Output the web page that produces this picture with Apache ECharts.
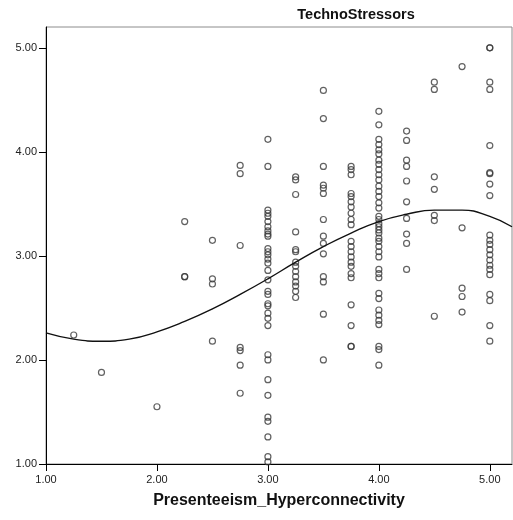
<!DOCTYPE html>
<html>
<head>
<meta charset="utf-8">
<script src="https://cdn.jsdelivr.net/npm/echarts@6/dist/echarts.min.js"></script>
<style>
	html, body { margin: 0; padding: 0; background: #fff; }
	#chart { width: 513px; height: 520px; }
</style>
</head>
<body>
<div id="chart"></div>
<script>
// tick labels
const xTicks = [1, 2, 3, 4, 5];
const yTicks = [1, 2, 3, 4, 5];

// TechnoStressors scores at each Presenteeism_Hyperconnectivity level
const at125 = [2.24];
const at150 = [1.88];
const at200 = [1.55];
const at225 = [3.33, 2.80, 2.80];
const at250 = [3.15, 2.78, 2.73, 2.18];
const at275 = [3.87, 3.79, 3.10, 2.12, 2.09, 1.95, 1.68];
const at300 = [4.12, 3.86, 3.44, 3.41, 3.38, 3.33, 3.28, 3.24, 3.21, 3.19, 3.07, 3.04, 3.01, 2.97, 2.93, 2.86, 2.77,
	2.66, 2.63, 2.54, 2.52, 2.45, 2.40, 2.33, 2.05, 2.00, 1.81, 1.66, 1.45, 1.41, 1.26, 1.07, 1.02];
const at325 = [3.76, 3.73, 3.59, 3.23, 3.06, 3.04, 2.94, 2.90, 2.85, 2.80, 2.75, 2.71, 2.66, 2.60];
const at350 = [4.59, 4.32, 3.86, 3.68, 3.65, 3.60, 3.35, 3.19, 3.12, 3.02, 2.80, 2.75, 2.44, 2.00];
const at375 = [3.86, 3.83, 3.78, 3.60, 3.57, 3.52, 3.47, 3.41, 3.35, 3.30, 3.14, 3.09, 3.04, 2.99, 2.94, 2.90, 2.83,
	2.79, 2.53, 2.33, 2.13, 2.13];
const at400 = [4.39, 4.26, 4.12, 4.07, 4.02, 3.98, 3.92, 3.88, 3.83, 3.78, 3.73, 3.67, 3.62, 3.57, 3.51, 3.46, 3.38,
	3.35, 3.31, 3.28, 3.25, 3.22, 3.17, 3.14, 3.09, 3.04, 2.99, 2.87, 2.83, 2.79, 2.64, 2.59, 2.48, 2.43, 2.38, 2.34,
	2.13, 2.10, 1.95];
const at425 = [4.20, 4.11, 3.92, 3.86, 3.72, 3.52, 3.36, 3.21, 3.12, 2.87];
const at450 = [4.67, 4.60, 3.76, 3.64, 3.39, 3.34, 2.42];
const at475 = [4.82, 3.27, 2.69, 2.61, 2.46];
const at500 = [5.00, 5.00, 4.67, 4.60, 4.06, 3.80, 3.79, 3.69, 3.58, 3.20, 3.15, 3.11, 3.06, 3.01, 2.96, 2.91, 2.87,
	2.82, 2.63, 2.57, 2.33, 2.18];

// fitted (cubic) curve
const fitX = [1.0, 1.25, 1.5, 1.75, 2.0, 2.25, 2.5, 2.75, 3.0, 3.25, 3.5, 3.75, 4.0, 4.25, 4.5, 4.75, 5.0, 5.2];
const fitY = [2.26, 2.20, 2.18, 2.20, 2.27, 2.37, 2.49, 2.63, 2.78, 2.94, 3.09, 3.22, 3.33, 3.40, 3.44, 3.44, 3.38, 3.28];

const columns = [
	[1.25, at125], [1.5, at150], [2.0, at200], [2.25, at225], [2.5, at250], [2.75, at275],
	[3.0, at300], [3.25, at325], [3.5, at350], [3.75, at375], [4.0, at400], [4.25, at425],
	[4.5, at450], [4.75, at475], [5.0, at500]
];
const points = [];
columns.forEach(([x, ys]) => {
	ys.forEach((y) => points.push([x, y]));
});
const curve = fitX.map((x, i) => [x, fitY[i]]);

const font = 'Arial, "Liberation Sans", sans-serif';
const myChart = echarts.init(document.getElementById('chart'));
const option = {
	animation: false,
	title: {
		text: 'TechnoStressors',
		left: 351,
		top: 2,
		textAlign: 'center',
		textStyle: { fontFamily: font, fontSize: 14.5, fontWeight: 'bold', color: '#111' }
	},
	grid: {
		left: 46,
		top: 27,
		right: 1,
		bottom: 56,
		show: true,
		borderColor: '#8c8c8c',
		borderWidth: 1,
		backgroundColor: '#fff'
	},
	xAxis: {
		type: 'value',
		min: 1,
		max: 5.2,
		interval: 1,
		name: 'Presenteeism_Hyperconnectivity',
		nameLocation: 'middle',
		nameGap: 29,
		nameTextStyle: { fontFamily: font, fontSize: 16, fontWeight: 'bold', color: '#111' },
		axisLine: { lineStyle: { color: '#000', width: 1 } },
		axisTick: { show: true, length: 7, customValues: xTicks, lineStyle: { color: '#000' } },
		axisLabel: {
			customValues: xTicks,
			fontFamily: font,
			fontSize: 11,
			color: '#222',
			margin: 10,
			formatter: (v) => v.toFixed(2)
		},
		splitLine: { show: false }
	},
	yAxis: {
		type: 'value',
		min: 1,
		max: 5.2,
		interval: 1,
		axisLine: { show: true, lineStyle: { color: '#000', width: 1 } },
		axisTick: { show: true, length: 7, customValues: yTicks, lineStyle: { color: '#000' } },
		axisLabel: {
			customValues: yTicks,
			fontFamily: font,
			fontSize: 11,
			color: '#222',
			margin: 9,
			formatter: (v) => v.toFixed(2)
		},
		splitLine: { show: false }
	},
	series: [
		{
			type: 'line',
			data: curve,
			smooth: true,
			showSymbol: false,
			silent: true,
			lineStyle: { color: '#111', width: 1.4 },
			z: 3
		},
		{
			type: 'scatter',
			data: points,
			symbol: 'circle',
			symbolSize: 6,
			itemStyle: { color: 'rgba(255,255,255,0)', borderColor: '#3a3a3a', borderWidth: 1.2 },
			z: 2
		}
	]
};
myChart.setOption(option, true);
</script>
</body>
</html>
